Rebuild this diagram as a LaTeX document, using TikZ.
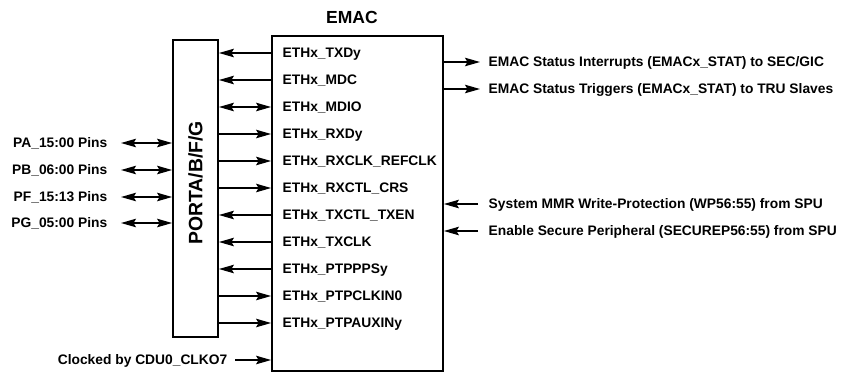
\documentclass[tikz,border=0pt]{standalone}
\usepackage{fontspec}
\setmainfont{Liberation Sans}
\usetikzlibrary{arrows.meta}

\begin{document}
\begin{tikzpicture}[x=1pt, y=-1pt, line width=1.4pt,
    >={Stealth[length=15pt,width=8.5pt,inset=2.5pt]},
    every node/.style={font=\fontsize{13.8}{16}\selectfont\bfseries},
    sig/.style={anchor=west, inner sep=0pt, text height=9.9pt, text depth=0pt},
    pin/.style={anchor=east, inner sep=0pt, text height=9.9pt, text depth=0pt}]
      \useasboundingbox (0,0) rectangle (843,373);

      % Boxes
      \node[draw, line width=1.8pt, minimum width=171, minimum height=335] (emac) at (357.5,203.5) {};
      \node[draw, line width=1.8pt, minimum width=45, minimum height=297] (porta) at (195.5,188.5) {};
      \node[font=\fontsize{17.5}{20}\selectfont\bfseries] (title) at (352,17) {EMAC};
      \node[rotate=90, font=\fontsize{19.4}{22}\selectfont\bfseries] (portlbl) at (195.5,183) {PORTA/B/F/G};

      % Signals (inside EMAC)
      \node[sig] (txd) at (282,53) {ETHx\_TXDy};
      \node[sig] (mdc) at (282,80) {ETHx\_MDC};
      \node[sig] (mdio) at (282,107) {ETHx\_MDIO};
      \node[sig] (rxd) at (282,134) {ETHx\_RXDy};
      \node[sig] (rxclk) at (282,161) {ETHx\_RXCLK\_REFCLK};
      \node[sig] (rxctl) at (282,188) {ETHx\_RXCTL\_CRS};
      \node[sig] (txctl) at (282,215) {ETHx\_TXCTL\_TXEN};
      \node[sig] (txclk) at (282,242) {ETHx\_TXCLK};
      \node[sig] (pps) at (282,269) {ETHx\_PTPPPSy};
      \node[sig] (clkin) at (282,296) {ETHx\_PTPCLKIN0};
      \node[sig] (auxin) at (282,323) {ETHx\_PTPAUXINy};

      % Arcs (port <-> EMAC)
      \draw[<-] (porta.east |- txd) -- (emac.west |- txd);
      \draw[<-] (porta.east |- mdc) -- (emac.west |- mdc);
      \draw[<->] (porta.east |- mdio) -- (emac.west |- mdio);
      \draw[->] (porta.east |- rxd) -- (emac.west |- rxd);
      \draw[->] (porta.east |- rxclk) -- (emac.west |- rxclk);
      \draw[->] (porta.east |- rxctl) -- (emac.west |- rxctl);
      \draw[<-] (porta.east |- txctl) -- (emac.west |- txctl);
      \draw[<-] (porta.east |- txclk) -- (emac.west |- txclk);
      \draw[<-] (porta.east |- pps) -- (emac.west |- pps);
      \draw[->] (porta.east |- clkin) -- (emac.west |- clkin);
      \draw[->] (porta.east |- auxin) -- (emac.west |- auxin);

      % Pins
      \node[pin] (pa) at (108,143) {PA\_15:00 Pins};
      \node[pin] (pb) at (108,170) {PB\_06:00 Pins};
      \node[pin] (pf) at (108,197) {PF\_15:13 Pins};
      \node[pin] (pg) at (108,223) {PG\_05:00 Pins};
      \draw[<->, shorten <=13pt] (pa.east) -- (porta.west |- pa);
      \draw[<->, shorten <=13pt] (pb.east) -- (porta.west |- pb);
      \draw[<->, shorten <=13pt] (pf.east) -- (porta.west |- pf);
      \draw[<->, shorten <=13pt] (pg.east) -- (porta.west |- pg);

      % Clock
      \node[pin] (clk) at (228,360) {Clocked by CDU0\_CLKO7};
      \draw[->, shorten <=7pt] (clk.east) -- (emac.west |- clk);

      % Right side
      \node[sig] (irq) at (488,62) {EMAC Status Interrupts (EMACx\_STAT) to SEC/GIC};
      \node[sig] (trig) at (488,89) {EMAC Status Triggers (EMACx\_STAT) to TRU Slaves};
      \node[sig] (wp) at (488,204) {System MMR Write-Protection (WP56:55) from SPU};
      \node[sig] (sec) at (488,231) {Enable Secure Peripheral (SECUREP56:55) from SPU};
      \draw[->, shorten >=8pt] (emac.east |- irq) -- (irq.west);
      \draw[->, shorten >=8pt] (emac.east |- trig) -- (trig.west);
      \draw[->, shorten <=10pt] (wp.west) -- (emac.east |- wp);
      \draw[->, shorten <=10pt] (sec.west) -- (emac.east |- sec);
\end{tikzpicture}
\end{document}
